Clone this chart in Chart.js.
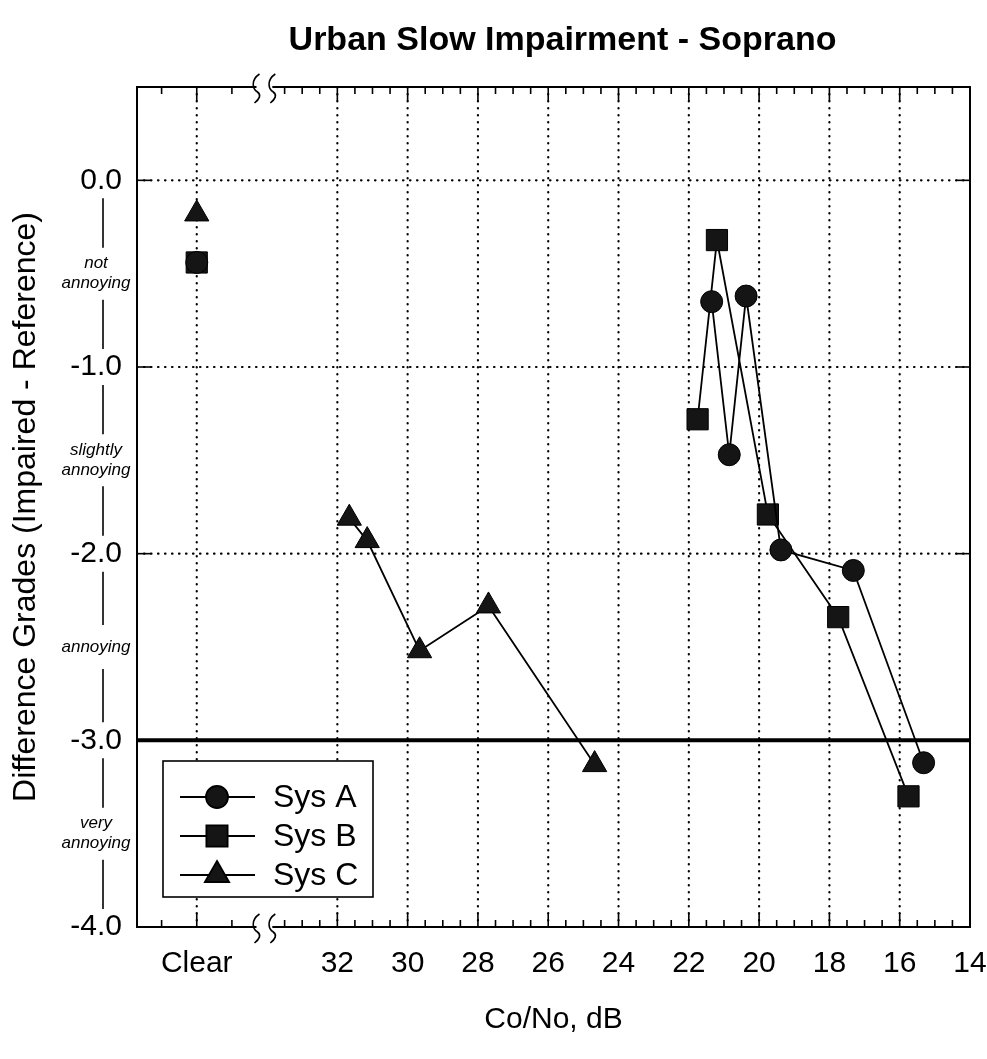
<!DOCTYPE html>
<html>
<head>
<meta charset="utf-8">
<script src="https://cdn.jsdelivr.net/npm/chart.js@4.4.0/dist/chart.umd.min.js"></script>
<style>
  html, body { margin: 0; padding: 0; background: #fff; }
</style>
</head>
<body>
<canvas id="chart" width="987" height="1059"></canvas>
<script>
// x position used for the "Clear" (no impairment) condition, left of the axis break
const CLEAR = 36;

const sysAx = [CLEAR, 21.35, 20.85, 20.37, 19.38, 17.32, 15.32];
const sysAy = [-0.44, -0.65, -1.47, -0.62, -1.98, -2.09, -3.12];

const sysBx = [CLEAR, 21.75, 21.2, 19.75, 17.75, 15.75];
const sysBy = [-0.44, -1.28, -0.32, -1.79, -2.34, -3.30];

const sysCx = [CLEAR, 31.66, 31.15, 29.66, 27.7, 24.68];
const sysCy = [-0.18, -1.81, -1.93, -2.52, -2.28, -3.13];

const xTicks = [CLEAR, 32, 30, 28, 26, 24, 22, 20, 18, 16, 14];
const yTicks = [0, -1, -2, -3, -4];
const gradePos = [-0.5, -1.5, -2.5, -3.5];
const gradeText = [['not', 'annoying'], ['slightly', 'annoying'], ['annoying'], ['very', 'annoying']];
const REF_LINE = -3;
const BREAK = [34.3, 33.85];

Chart.defaults.font.family = "'Liberation Sans', Arial, Helvetica, sans-serif";
Chart.defaults.color = '#000';

function pts(xs, ys) {
  return xs.map((x, i) => ({ x: x, y: ys[i] }));
}

// no connecting line from the Clear point across the break
const noBreakLink = {
  borderColor: c => c.p0.parsed.x === CLEAR ? 'rgba(0,0,0,0)' : '#000'
};

function series(label, xs, ys, style, r) {
  return {
    label: label,
    data: pts(xs, ys),
    borderColor: '#000',
    borderWidth: 1.8,
    backgroundColor: '#151515',
    pointBackgroundColor: '#151515',
    pointBorderColor: '#000',
    pointBorderWidth: 1,
    pointStyle: style,
    pointRadius: r,
    tension: 0,
    segment: noBreakLink
  };
}

function line(ctx, x1, y1, x2, y2) {
  ctx.beginPath();
  ctx.moveTo(x1, y1);
  ctx.lineTo(x2, y2);
  ctx.stroke();
}

const framePlugin = {
  id: 'frame',
  beforeDatasetsDraw(chart) {
    const { ctx, chartArea: a, scales: { x, y } } = chart;
    ctx.save();
    ctx.strokeStyle = '#000';
    ctx.lineWidth = 2.2;
    ctx.lineCap = 'round';
    ctx.setLineDash([0.5, 6.5]);
    xTicks.forEach(v => {
      if (v === 14) return;
      const px = x.getPixelForValue(v);
      line(ctx, px, a.top, px, a.bottom);
    });
    yTicks.forEach(v => {
      if (v <= REF_LINE) return;
      const py = y.getPixelForValue(v);
      line(ctx, a.left, py, a.right, py);
    });
    ctx.setLineDash([]);
    ctx.lineCap = 'butt';
    ctx.lineWidth = 4;
    const pr = y.getPixelForValue(REF_LINE);
    line(ctx, a.left, pr, a.right, pr);
    ctx.restore();
  },
  afterDatasetsDraw(chart) {
    const { ctx, chartArea: a, scales: { x, y } } = chart;
    ctx.save();
    ctx.strokeStyle = '#000';
    ctx.fillStyle = '#000';

    // frame
    ctx.lineWidth = 2;
    ctx.strokeRect(a.left, a.top, a.width, a.height);

    // inward ticks
    ctx.lineWidth = 1.6;
    const minor = [37, 35];
    for (let v = 33.5; v > 14; v -= 0.5) {
      if (v % 2 !== 0) minor.push(v);
    }
    minor.forEach(v => {
      const px = x.getPixelForValue(v);
      line(ctx, px, a.bottom, px, a.bottom - 7);
      line(ctx, px, a.top, px, a.top + 7);
    });
    xTicks.forEach(v => {
      const px = x.getPixelForValue(v);
      line(ctx, px, a.bottom, px, a.bottom - 14);
      line(ctx, px, a.top, px, a.top + 14);
    });
    yTicks.forEach(v => {
      const py = y.getPixelForValue(v);
      line(ctx, a.left, py, a.left + 14, py);
      line(ctx, a.right, py, a.right - 14, py);
    });

    // axis breaks
    const b1 = x.getPixelForValue(BREAK[0]);
    const b2 = x.getPixelForValue(BREAK[1]);
    [a.top, a.bottom].forEach(yy => {
      ctx.fillStyle = '#fff';
      ctx.fillRect(b1, yy - 3, b2 - b1, 6);
      ctx.lineWidth = 1.6;
      [b1, b2].forEach(bx => {
        ctx.beginPath();
        ctx.moveTo(bx + 3, yy - 13);
        ctx.bezierCurveTo(bx - 6, yy - 7, bx - 4, yy + 2, bx + 1, yy + 5);
        ctx.bezierCurveTo(bx + 5, yy + 8, bx + 3, yy + 12, bx - 2, yy + 16);
        ctx.stroke();
      });
    });
    ctx.fillStyle = '#000';

    // rating column left of the y axis
    const colX = 103;
    const items = [];
    yTicks.forEach(v => items.push({ py: y.getPixelForValue(v), h: 18 }));
    gradePos.forEach((v, i) => items.push({ py: y.getPixelForValue(v), h: gradeText[i].length > 1 ? 26 : 22, text: gradeText[i] }));
    items.sort((p, q) => p.py - q.py);
    ctx.lineWidth = 1.6;
    for (let i = 0; i < items.length - 1; i++) {
      line(ctx, colX, items[i].py + items[i].h, colX, items[i + 1].py - items[i + 1].h);
    }
    ctx.font = "italic 17px 'Liberation Sans', Arial, sans-serif";
    ctx.textAlign = 'center';
    ctx.textBaseline = 'middle';
    items.forEach(it => {
      if (!it.text) return;
      const n = it.text.length;
      it.text.forEach((t, k) => {
        ctx.fillText(t, colX - 7, it.py + (k - (n - 1) / 2) * 20);
      });
    });

    // legend
    const lx = a.left + 26, ly = a.bottom - 166, lw = 210, lh = 136;
    ctx.fillStyle = '#fff';
    ctx.fillRect(lx, ly, lw, lh);
    ctx.lineWidth = 1.6;
    ctx.strokeRect(lx, ly, lw, lh);
    ctx.font = "32px 'Liberation Sans', Arial, sans-serif";
    ctx.textAlign = 'left';
    chart.data.datasets.forEach((ds, i) => {
      const ry = ly + 36 + i * 39;
      ctx.strokeStyle = '#000';
      ctx.lineWidth = 1.8;
      line(ctx, lx + 17, ry, lx + 92, ry);
      ctx.fillStyle = ds.pointBackgroundColor;
      ctx.strokeStyle = ds.pointBorderColor;
      Chart.helpers.drawPoint(ctx, {
        pointStyle: ds.pointStyle,
        radius: ds.pointRadius,
        borderWidth: 1,
        rotation: 0
      }, lx + 54, ry);
      ctx.fillStyle = '#000';
      ctx.fillText(ds.label, lx + 110, ry + 1);
    });

    // title
    ctx.font = "bold 34px 'Liberation Sans', Arial, sans-serif";
    ctx.textAlign = 'center';
    ctx.fillText('Urban Slow Impairment - Soprano', (a.left + a.right) / 2 + 9, 41);
    ctx.restore();
  }
};

new Chart(document.getElementById('chart').getContext('2d'), {
  type: 'line',
  data: {
    datasets: [
      series('Sys A', sysAx, sysAy, 'circle', 11),
      series('Sys B', sysBx, sysBy, 'rect', 15),
      series('Sys C', sysCx, sysCy, 'triangle', 14)
    ]
  },
  options: {
    responsive: false,
    animation: false,
    events: [],
    layout: { padding: { top: 87, right: 0, left: 0, bottom: 0 } },
    plugins: {
      legend: { display: false },
      tooltip: { enabled: false }
    },
    scales: {
      x: {
        type: 'linear',
        min: 14,
        max: 37.7,
        reverse: true,
        afterBuildTicks: s => { s.ticks = xTicks.map(v => ({ value: v })); },
        afterFit: s => {
          s.height = 132;
          s.paddingLeft = 0;
          s.paddingRight = 17;
        },
        grid: { display: false, drawTicks: false },
        border: { display: false },
        ticks: {
          padding: 19,
          autoSkip: false,
          maxRotation: 0,
          font: { size: 30 },
          callback: v => v === CLEAR ? 'Clear' : String(v)
        },
        title: {
          display: true,
          text: 'Co/No, dB',
          font: { size: 30 },
          padding: { top: 0, bottom: 21 }
        }
      },
      y: {
        min: -4,
        max: 0.5,
        afterBuildTicks: s => { s.ticks = yTicks.map(v => ({ value: v })); },
        afterFit: s => { s.width = 137; },
        grid: { display: false, drawTicks: false },
        border: { display: false },
        ticks: {
          padding: 15,
          font: { size: 30 },
          callback: v => v.toFixed(1)
        },
        title: {
          display: true,
          text: 'Difference Grades (Impaired - Reference)',
          font: { size: 32 },
          padding: { top: 7, bottom: 0 }
        }
      }
    }
  },
  plugins: [framePlugin]
});
</script>
</body>
</html>
